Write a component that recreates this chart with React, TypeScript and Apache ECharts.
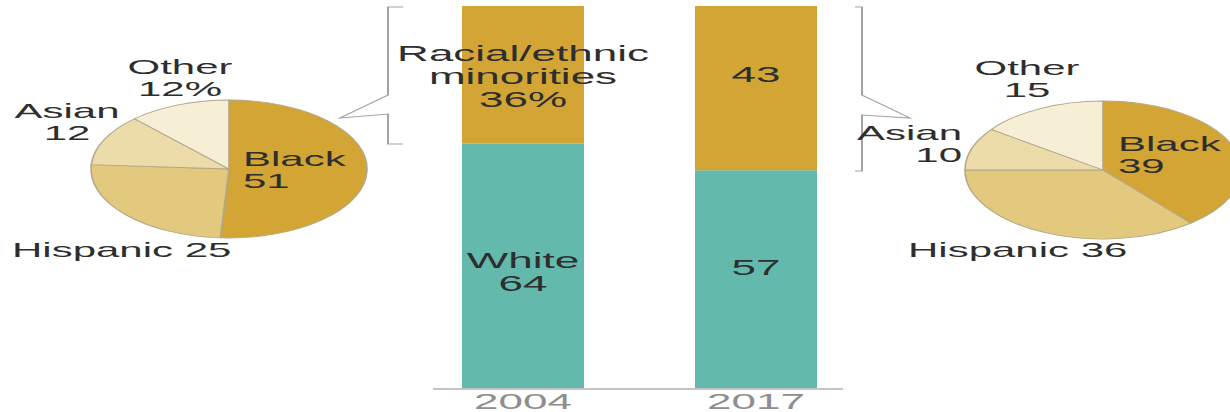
import React, { useEffect, useRef } from "react";
import * as echarts from "echarts";

const years = ["2004", "2017"];
const whiteShare = [64, 57];
const minorityShare = [36, 43];

const groups = ["Black", "Hispanic", "Asian", "Other"];
const groups2004 = [51, 25, 12, 12];
const groups2017 = [39, 36, 10, 15];

const sliceColors = ["#d3a534", "#e3c97e", "#ecdcaa", "#f7eed6"];
const FONT = "'Liberation Sans', Arial, sans-serif";

// label placement (unscaled coordinates)
const pieLabelPos2004 = [
  { x: 121.5, y: 169.5, align: "left" },
  { x: 6, y: 250, align: "left" },
  { x: 33.5, y: 121.5, align: "center" },
  { x: 90, y: 77.5, align: "center" },
];
const pieLabelPos2017 = [
  { x: 559, y: 155, align: "left" },
  { x: 454, y: 250, align: "left" },
  { x: 481, y: 144, align: "right" },
  { x: 513.5, y: 78.5, align: "center" },
];

function pieLabelText(name: string, value: number, idx: number, pct: boolean) {
  if (name === "Hispanic") return `${name} ${value}`;
  return `${name}\n${value}${pct && name === "Other" ? "%" : ""}`;
}

function pieSeries(values: number[], center: [number, number], pos: any[], pct: boolean) {
  return {
    type: "pie",
    center,
    radius: 69,
    startAngle: 90,
    clockwise: true,
    avoidLabelOverlap: false,
    silent: true,
    data: groups.map((g, i) => ({
      name: g,
      value: values[i],
      itemStyle: { color: sliceColors[i] },
    })),
    itemStyle: { borderColor: "#b3a78a", borderWidth: 0.8 },
    label: {
      show: true,
      position: "outside",
      color: "#2e2e2e",
      fontSize: 21,
      lineHeight: 22,
      fontFamily: FONT,
      formatter: (p: any) => pieLabelText(p.name, p.value, p.dataIndex, pct),
    },
    labelLine: { show: false },
    labelLayout: (p: any) => ({
      x: pos[p.dataIndex].x,
      y: pos[p.dataIndex].y,
      align: pos[p.dataIndex].align,
      verticalAlign: "middle",
      hideOverlap: false,
      moveOverlap: false,
    }),
  };
}

const whiteLabels = (i: number) => (i === 0 ? `White\n${whiteShare[i]}` : `${whiteShare[i]}`);
const minorityLabels = (i: number) =>
  i === 0 ? `Racial/ethnic\nminorities\n${minorityShare[i]}%` : `${minorityShare[i]}`;
const whiteOffsets = [[0, 6.5], [0, -12]];
const minorityOffsets = [[0, 2], [0, -13.5]];

export default function App() {
  const ref = useRef<HTMLDivElement>(null);
  useEffect(() => {
    if (!ref.current) return;
    const chart = echarts.init(ref.current, null, { renderer: "svg" });
    const barLabel = {
      show: true,
      position: "inside",
      color: "#2e2e2e",
      fontSize: 22,
      lineHeight: 23,
      fontFamily: FONT,
    };
    chart.setOption({
      animation: false,
      backgroundColor: "#ffffff",
      grid: { left: 203.25, width: 233, top: 6, bottom: 23 },
      xAxis: {
        type: "category",
        data: years,
        axisLine: { show: false },
        axisTick: { show: false },
        axisLabel: { color: "#8e8e8e", fontSize: 22, fontFamily: FONT, margin: 2 },
      },
      yAxis: { type: "value", min: 0, max: 100, show: false, splitLine: { show: false } },
      series: [
        {
          type: "bar",
          stack: "total",
          barWidth: 61,
          silent: true,
          data: whiteShare.map((v, i) => ({
            value: v,
            label: { ...barLabel, offset: whiteOffsets[i], formatter: () => whiteLabels(i) },
          })),
          itemStyle: { color: "#63b9ab" },
        },
        {
          type: "bar",
          stack: "total",
          barWidth: 61,
          silent: true,
          data: minorityShare.map((v, i) => ({
            value: v,
            label: { ...barLabel, offset: minorityOffsets[i], formatter: () => minorityLabels(i) },
          })),
          itemStyle: { color: "#d3a534" },
        },
        pieSeries(groups2004, [114.5, 169], pieLabelPos2004, true),
        pieSeries(groups2017, [551.5, 170], pieLabelPos2017, false),
      ],
      graphic: [
        {
          type: "line",
          shape: { x1: 216.5, y1: 389, x2: 421.5, y2: 389 },
          style: { stroke: "#b0b0b0", lineWidth: 1.5 },
          silent: true,
        },
        {
          type: "polyline",
          shape: {
            points: [
              [201.5, 7], [194, 7], [194, 95], [170, 118], [194, 114], [194, 144], [201.5, 144],
            ],
          },
          style: { stroke: "#a3a3a3", lineWidth: 1, fill: null },
          silent: true,
        },
        {
          type: "polyline",
          shape: {
            points: [
              [427.5, 7], [431, 7], [431, 95], [455, 118], [431, 115], [431, 171], [427.5, 171],
            ],
          },
          style: { stroke: "#a3a3a3", lineWidth: 1, fill: null },
          silent: true,
        },
      ],
    });
    return () => chart.dispose();
  }, []);
  return (
    <div
      ref={ref}
      style={{
        position: "absolute",
        left: 0,
        top: 0,
        width: 615,
        height: 412,
        transform: "scaleX(2)",
        transformOrigin: "0 0",
      }}
    />
  );
}
